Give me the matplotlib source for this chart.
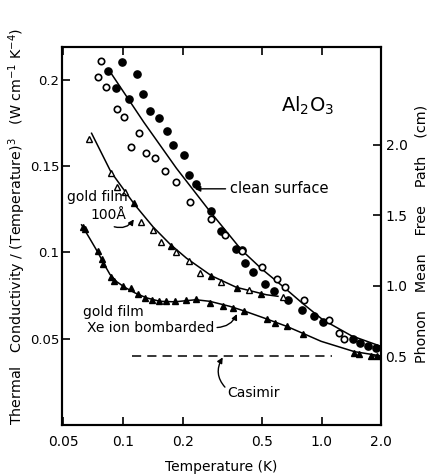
import matplotlib
matplotlib.use("Agg")
import matplotlib.pyplot as plt

# ---- data ----
clean_filled_T = [0.0838, 0.0922, 0.0985, 0.1076, 0.1172, 0.126, 0.1367, 0.1517, 0.167, 0.179,
                  0.2037, 0.2154, 0.2327, 0.2791, 0.3108, 0.3697, 0.3963, 0.4103, 0.4527, 0.520,
                  0.5752, 0.6746, 0.796, 0.915, 1.015, 1.436, 1.57, 1.709, 1.883]
clean_filled_K = [0.2054, 0.1955, 0.2107, 0.1887, 0.2035, 0.1919, 0.1820, 0.1781, 0.1704, 0.1623,
                  0.1564, 0.1447, 0.1397, 0.1243, 0.1127, 0.1018, 0.1012, 0.0938, 0.0886, 0.0817,
                  0.0774, 0.0726, 0.0665, 0.0633, 0.0599, 0.0498, 0.0475, 0.0458, 0.0445]
clean_open_T = [0.0746, 0.0775, 0.0818, 0.0930, 0.1012, 0.1093, 0.1203, 0.1315, 0.1448, 0.1635,
                0.1842, 0.2171, 0.2768, 0.3256, 0.3977, 0.5041, 0.5976, 0.654, 0.812, 1.092,
                1.22, 1.293]
clean_open_K = [0.2015, 0.2110, 0.1961, 0.1832, 0.1787, 0.1610, 0.1695, 0.1575, 0.1546, 0.1473,
                0.1411, 0.1290, 0.1194, 0.1102, 0.1009, 0.0914, 0.0846, 0.0799, 0.0724, 0.0606,
                0.0533, 0.0499]
clean_fit_T = [0.0877, 0.1275, 0.1861, 0.2705, 0.395, 0.4994, 0.639, 0.8025, 1.015, 1.415, 1.956]
clean_fit_K = [0.2035, 0.1755, 0.1488, 0.1247, 0.1015, 0.0905, 0.0803, 0.0705, 0.0610, 0.0517, 0.0459]

gold_open_T = [0.0677, 0.0871, 0.0930, 0.1027, 0.1234, 0.142, 0.1556, 0.1861, 0.2154, 0.2457,
               0.3133, 0.4297, 0.639]
gold_open_K = [0.1656, 0.1459, 0.1382, 0.1353, 0.1179, 0.1128, 0.1060, 0.1002, 0.0952, 0.0880,
               0.0826, 0.0782, 0.0740]
gold_filled_T = [0.1136, 0.1746, 0.2791, 0.3740, 0.4948]
gold_filled_K = [0.1286, 0.1038, 0.0861, 0.0792, 0.0760]
gold_fit_T = [0.0696, 0.0871, 0.1149, 0.142, 0.1722, 0.209, 0.2791, 0.3727, 0.5275, 0.6032]
gold_fit_K = [0.1691, 0.1467, 0.1276, 0.1148, 0.1050, 0.0967, 0.0865, 0.0798, 0.0755, 0.0746]

xe_T = [0.0632, 0.0644, 0.0751, 0.0782, 0.0796, 0.0871, 0.0906, 0.1, 0.1093, 0.1194, 0.129,
        0.1398, 0.1526, 0.1658, 0.1825, 0.209, 0.2327, 0.2736, 0.3192, 0.3583, 0.4055, 0.531,
        0.584, 0.671, 0.805, 1.448, 1.552, 1.777, 1.90]
xe_K = [0.1150, 0.1137, 0.1009, 0.0961, 0.0932, 0.0855, 0.0836, 0.0804, 0.0792, 0.0758, 0.0737,
        0.0726, 0.0717, 0.0716, 0.0720, 0.0726, 0.0730, 0.0707, 0.0687, 0.0678, 0.0658, 0.0617,
        0.0592, 0.0572, 0.0526, 0.0416, 0.0410, 0.0401, 0.0401]
xe_fit_T = [0.062, 0.0683, 0.0751, 0.0803, 0.0861, 0.0933, 0.1023, 0.1149, 0.1315, 0.1534,
            0.1825, 0.2327, 0.2736, 0.3449, 0.4055, 0.517, 0.6668, 0.8025, 0.995, 1.465, 1.979]
xe_fit_K = [0.116, 0.1079, 0.0998, 0.0934, 0.0873, 0.0830, 0.0798, 0.0766, 0.0737, 0.0717,
            0.0714, 0.0726, 0.0717, 0.0688, 0.0662, 0.0619, 0.0572, 0.0532, 0.0485, 0.0425, 0.0401]

casimir_T = [0.111, 1.13]
casimir_K = [0.0402, 0.0402]

x_ticks = [0.05, 0.1, 0.2, 0.5, 1.0, 2.0]
x_ticklabels = ["0.05", "0.1", "0.2", "0.5", "1.0", "2.0"]
y_ticks = [0.05, 0.1, 0.15, 0.2]
y_ticklabels = ["0.05", "0.1", "0.15", "0.2"]
r_ticks = [0.5, 1.0, 1.5, 2.0]
r_ticklabels = ["0.5", "1.0", "1.5", "2.0"]

# ---- figure ----
plt.rcParams['font.family'] = ['DejaVu Sans']
fig = plt.figure(figsize=(4.29, 4.75), dpi=100)
ax = fig.add_axes([0.1445, 0.1053, 0.7445, 0.7957])
ax.set_xscale('log')
ax.set_xlim(0.0494, 2.0)
ax.set_ylim(0, 0.2191)

ms = 4.6
ax.plot(clean_fit_T, clean_fit_K, '-', color='black', lw=1.1)
ax.plot(gold_fit_T, gold_fit_K, '-', color='black', lw=1.1)
ax.plot(xe_fit_T, xe_fit_K, '-', color='black', lw=1.1)
ax.plot(clean_filled_T, clean_filled_K, 'o', color='black', ms=ms + 0.6, mec='black')
ax.plot(clean_open_T, clean_open_K, 'o', mfc='white', mec='black', mew=1.2, ms=ms)
ax.plot(gold_open_T, gold_open_K, '^', mfc='white', mec='black', mew=1.0, ms=ms)
ax.plot(gold_filled_T, gold_filled_K, '^', color='black', ms=ms)
ax.plot(xe_T, xe_K, '^', color='black', ms=ms + 0.4)
ax.plot(casimir_T, casimir_K, '--', color='black', lw=1.1, dashes=(6, 4))

ax.set_xticks(x_ticks)
ax.set_xticklabels(x_ticklabels)
ax.minorticks_off()
ax.set_yticks(y_ticks)
ax.set_yticklabels(y_ticklabels)
ax.tick_params(direction='in', length=6, width=1.2, labelsize=10, top=True)
ax.tick_params(axis='x', pad=7)
ax.tick_params(axis='y', pad=2, labelsize=9.5)
for s in ax.spines.values():
    s.set_linewidth(1.5)

ax2 = ax.twinx()
ax2.set_ylim(0.012, 2.695)
ax2.set_yticks(r_ticks)
ax2.set_yticklabels(r_ticklabels)
ax2.tick_params(direction='in', length=6, width=1.2, labelsize=10, pad=3)
for s in ax2.spines.values():
    s.set_linewidth(1.5)

ax.set_xlabel("Temperature (K)", fontsize=10, labelpad=8)
ax.set_ylabel("Thermal   Conductivity / (Temperature)$^3$   (W cm$^{-1}$ K$^{-4}$)",
              fontsize=10.3)
ax.yaxis.set_label_coords(-0.105, 0.525)
ax2.set_ylabel("Phonon    Mean    Free    Path    (cm)", fontsize=10.3)
ax2.yaxis.set_label_coords(1.105, 0.505)

ax.text(0.77, 0.845, "Al$_2$O$_3$", transform=ax.transAxes, fontsize=14, ha='center', va='center')

arrow_kw = dict(arrowstyle='-|>', color='black', lw=1.0, mutation_scale=8)
ax.annotate("clean surface", xy=(0.230, 0.1369), xytext=(0.345, 0.1369),
            fontsize=10.5, ha='left', va='center',
            arrowprops=dict(shrinkA=1, shrinkB=0, **arrow_kw))
ax.text(0.0524, 0.1322, "gold film", fontsize=10, ha='left', va='center')
ax.text(0.069, 0.1218, "100Å", fontsize=10, ha='left', va='center')
ax.annotate("", xy=(0.1136, 0.1192), xytext=(0.0905, 0.1149),
            arrowprops=dict(connectionstyle='arc3,rad=0.35', shrinkA=0, shrinkB=0, **arrow_kw))
ax.text(0.0629, 0.0656, "gold film", fontsize=10, ha='left', va='center')
ax.text(0.066, 0.0565, "Xe ion bombarded", fontsize=10, ha='left', va='center')
ax.annotate("", xy=(0.375, 0.0643), xytext=(0.298, 0.0565),
            arrowprops=dict(connectionstyle='arc3,rad=0.3', shrinkA=0, shrinkB=0, **arrow_kw))
ax.annotate("Casimir", xy=(0.318, 0.0392), xytext=(0.337, 0.0187),
            fontsize=10, ha='left', va='center',
            arrowprops=dict(connectionstyle='arc3,rad=-0.4', shrinkA=0, shrinkB=0,
                            relpos=(0, 0.7), **arrow_kw))

fig.savefig("out.png", dpi=100)
